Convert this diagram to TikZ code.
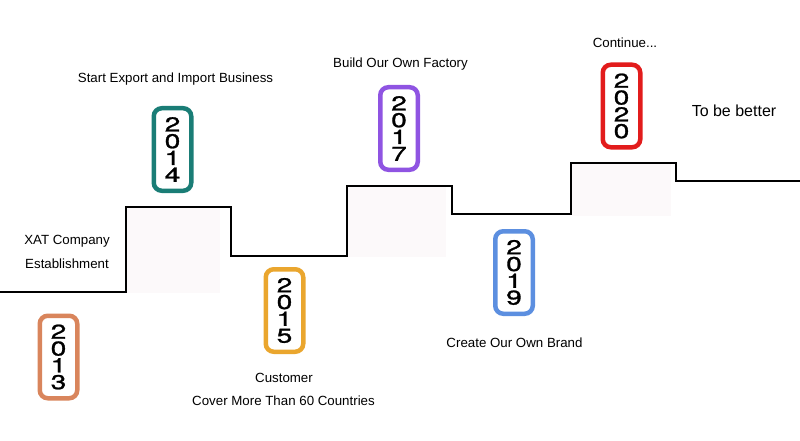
\documentclass[tikz,border=0pt]{standalone}
\usepackage{fontspec}
\usepackage{graphicx}
\setmainfont{Liberation Sans}
\newfontfamily\digfont[FakeBold=1.2]{TeX Gyre Heros}
\definecolor{cOrange}{RGB}{217,133,92}
\definecolor{cTeal}{RGB}{26,125,118}
\definecolor{cGold}{RGB}{234,166,46}
\definecolor{cPurple}{RGB}{143,84,226}
\definecolor{cBlue}{RGB}{92,143,224}
\definecolor{cRed}{RGB}{226,28,28}
\definecolor{cPale}{RGB}{252,249,250}
\newcommand\ydig[1]{\scalebox{1.4}[1]{#1}}
\newcommand\yearstack[4]{\ydig{#1}\\\ydig{#2}\\\ydig{#3}\\\ydig{#4}}
\tikzset{
  yearbox/.style={draw=#1, line width=4.5pt, rounded corners=8pt, fill=white,
    minimum width=37.5pt, minimum height=82.5pt, inner sep=0pt, align=center,
    font=\digfont\fontsize{20}{16.8}\selectfont},
  label/.style={font=\fontsize{13.3}{16}\selectfont, inner sep=0pt},
  biglabel/.style={font=\fontsize{16}{19}\selectfont, inner sep=0pt},
  stepline/.style={line width=2pt, black},
  pale/.style={fill=cPale, draw=none}
}
\begin{document}
\begin{tikzpicture}[x=1pt,y=-1pt]
\useasboundingbox (0,0) rectangle (800,441);
% pale blocks
\fill[pale] (127,208) rectangle (220,293);
\fill[pale] (348,187) rectangle (446,257);
\fill[pale] (572,164) rectangle (671,216);
% step line
\coordinate (s0) at (0,292);
\coordinate (s1) at (126,292);
\coordinate (s2) at (126,207);
\coordinate (s3) at (231,207);
\coordinate (s4) at (231,256);
\coordinate (s5) at (347,256);
\coordinate (s6) at (347,186);
\coordinate (s7) at (452,186);
\coordinate (s8) at (452,214);
\coordinate (s9) at (571,214);
\coordinate (s10) at (571,163);
\coordinate (s11) at (676,163);
\coordinate (s12) at (676,181);
\coordinate (s13) at (800,181);
\draw[stepline] (s0) -- (s1) -- (s2) -- (s3) -- (s4) -- (s5) -- (s6) -- (s7) -- (s8) -- (s9) -- (s10) -- (s11) -- (s12) -- (s13);
% year badges
\node[yearbox=cOrange] (y2013) at (58.5,357) {\yearstack2013};
\node[yearbox=cTeal] (y2014) at (172.5,149.5) {\yearstack2014};
\node[yearbox=cGold] (y2015) at (284.5,310.5) {\yearstack2015};
\node[yearbox=cPurple] (y2017) at (399,128.5) {\yearstack2017};
\node[yearbox=cBlue] (y2019) at (514,272.5) {\yearstack2019};
\node[yearbox=cRed] (y2020) at (621.5,106) {\yearstack2020};
% labels
\node[label] (t2013a) at (67,241) {XAT Company};
\node[label] (t2013b) at (67,264) {Establishment};
\node[label] (t2014) at (175.5,79) {Start Export and Import Business};
\node[label] (t2015a) at (284,378) {Customer};
\node[label] (t2015b) at (283.5,401) {Cover More Than 60 Countries};
\node[label] (t2017) at (400.5,64) {Build Our Own Factory};
\node[label] (t2019) at (514.5,343) {Create Our Own Brand};
\node[label] (t2020) at (625,43) {Continue...};
\node[biglabel] (tbetter) at (734,111) {To be better};
\end{tikzpicture}
\end{document}
